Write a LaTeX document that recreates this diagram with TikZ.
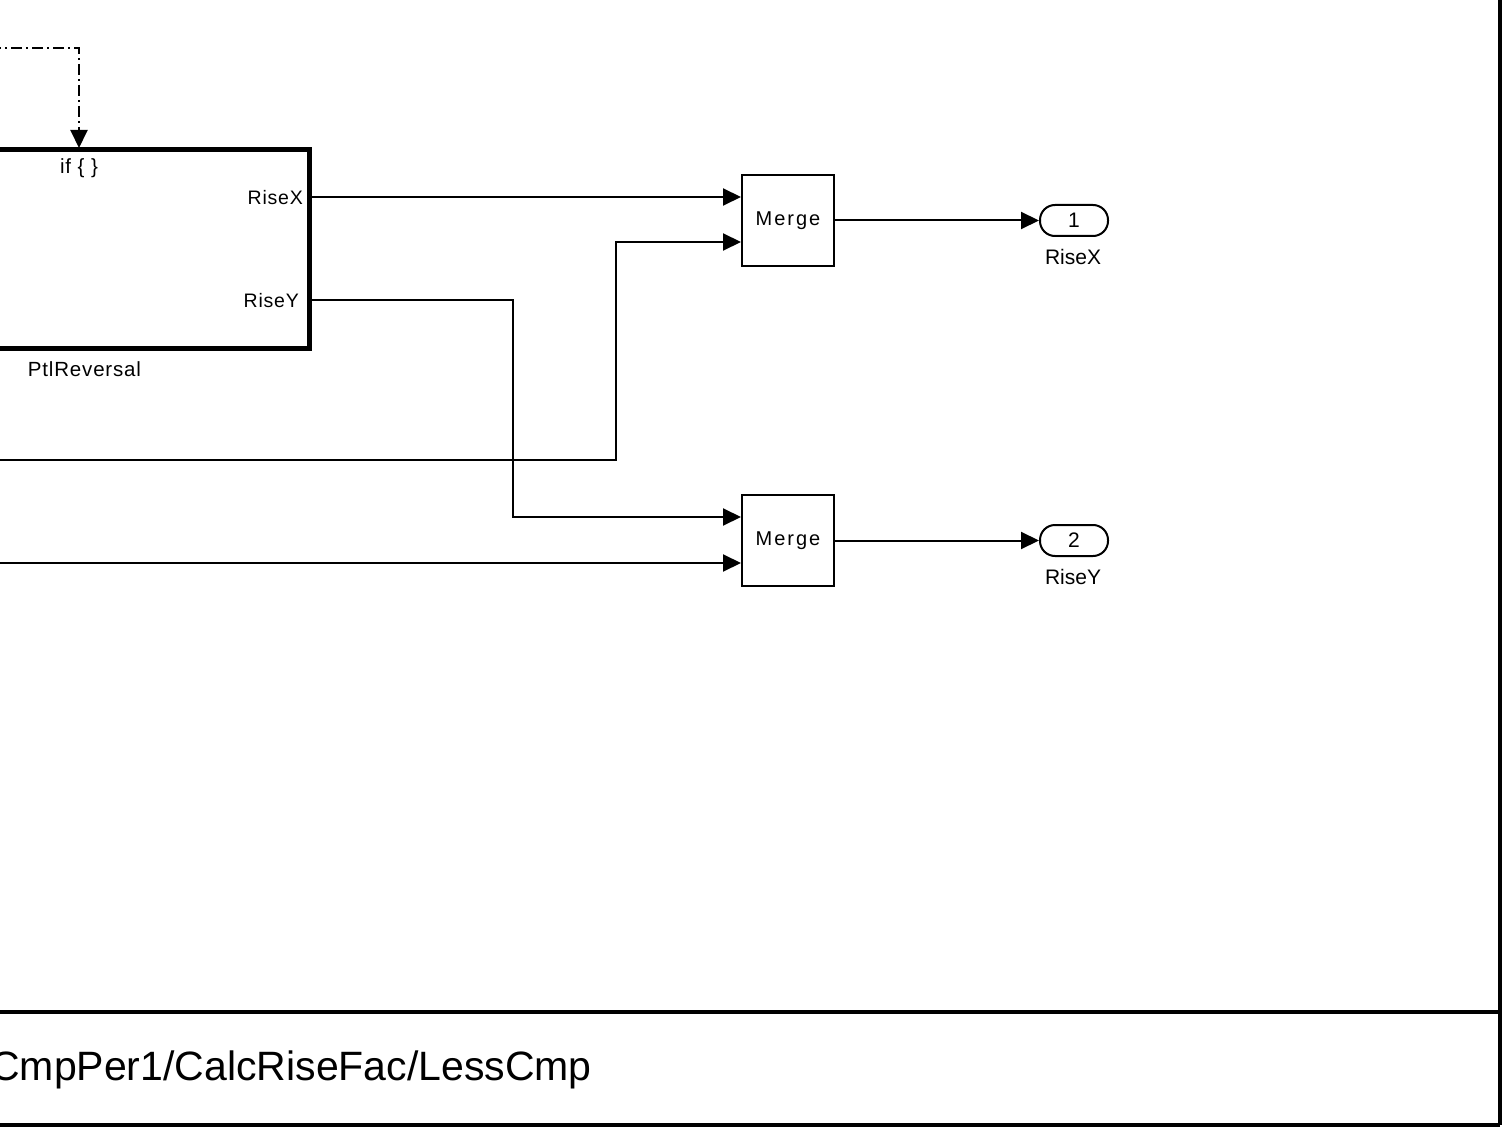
\documentclass[tikz,border=0pt]{standalone}
\usepackage{fontspec}
\setmainfont{Liberation Sans}
\usetikzlibrary{arrows.meta}
\begin{document}
\begin{tikzpicture}[x=1pt,y=-1pt,
  tip/.style={-{Triangle[length=18pt,width=17pt]}},
  wire/.style={line width=2pt,tip},
  plain/.style={line width=2pt},
  ctrl/.style={line width=2pt,dash pattern=on 11pt off 4pt on 2pt off 4pt,tip},
  mergebox/.style={draw,line width=2pt,minimum width=92pt,minimum height=91pt,inner sep=0pt,
    font=\fontsize{20}{24}\selectfont\addfontfeature{LetterSpace=10}},
  outport/.style={draw,line width=2pt,rounded corners=15pt,minimum width=68pt,minimum height=31pt,inner sep=0pt,
    font=\fontsize{21}{24}\selectfont},
  lbl/.style={inner sep=0pt,font=\fontsize{19.5}{23}\selectfont\addfontfeature{LetterSpace=4}},
  namelbl/.style={inner sep=0pt,font=\fontsize{20.5}{24}\selectfont\addfontfeature{LetterSpace=4}},
  olbl/.style={inner sep=0pt,font=\fontsize{21}{24}\selectfont},
  frame/.style={line width=4pt}
]
\useasboundingbox (0,0) rectangle (1506,1131);
\clip (0,0) rectangle (1506,1131);

% frame
\coordinate (fTR) at (1500,-10);
\coordinate (fR1) at (1500,1012);
\coordinate (fBR) at (1500,1125);
\coordinate (fL1) at (-10,1012);
\coordinate (fBL) at (-10,1125);
\draw[frame] (fTR) -- (fBR);
\draw[frame] (fL1) -- (fR1);
\draw[frame] (fBL) -- (fBR);
\node[anchor=base east,inner sep=0pt,font=\fontsize{41}{48}\selectfont] (title) at (592,1080) {CmpPer1/CalcRiseFac/LessCmp};

% subsystem block
\node[draw,line width=5pt,minimum width=509pt,minimum height=198pt,inner sep=0pt] (ptl) at (54.5,249) {};
\node[namelbl] (ifl) at (79,168) {if \{ \}};
\node[lbl,anchor=east] (rxl) at (303,198) {RiseX};
\node[lbl,anchor=east] (ryl) at (299,301) {RiseY};
\node[namelbl] (ptlname) at (84.5,369) {PtlReversal};
\coordinate (pX) at (309,197);
\coordinate (pY) at (309,300);
\coordinate (ctlsrc) at (-10,48);
\coordinate (ctltop) at (79,148);

% merges
\node[mergebox] (m1) at (788,220.5) {Merge};
\node[mergebox] (m2) at (788,540.5) {Merge};

% outports
\node[outport] (o1) at (1074,220.5) {1};
\node[outport] (o2) at (1074,540.5) {2};
\node[olbl] (o1l) at (1073,257) {RiseX};
\node[olbl] (o2l) at (1073,577) {RiseY};

% incoming from left
\coordinate (in3) at (-10,460);
\coordinate (in4) at (-10,563);

% connectors
\draw[ctrl] (ctlsrc) -| (ctltop);
\draw[wire] (pX) -- (m1.west |- pX);
\draw[wire] (pY) -- (513,300) -- (513,517) -- (m2.west |- 0,517);
\draw[wire] (in3) -- (616,460) -- (616,242) -- (m1.west |- 0,242);
\draw[wire] (in4) -- (m2.west |- in4);
\draw[wire] (m1.east) -- (o1.west);
\draw[wire] (m2.east) -- (o2.west);
\end{tikzpicture}
\end{document}
